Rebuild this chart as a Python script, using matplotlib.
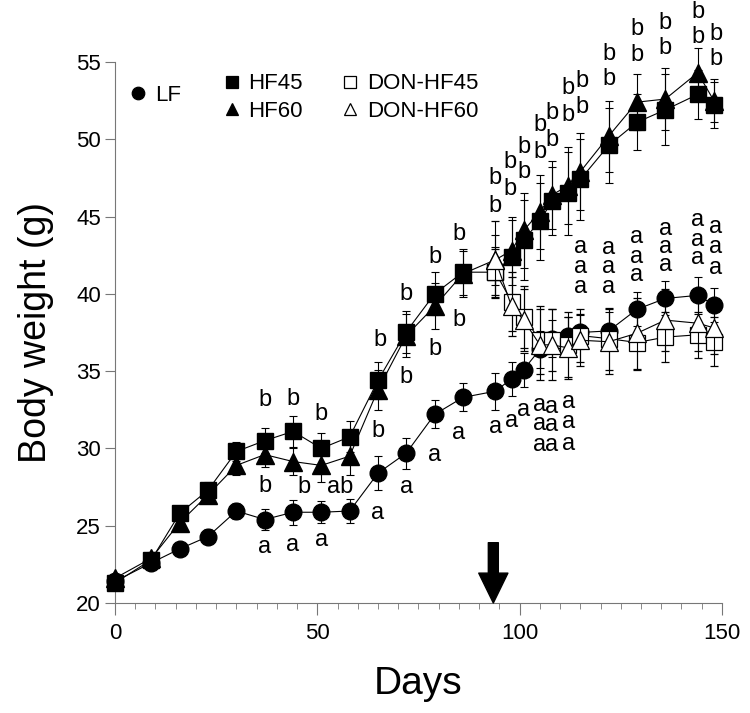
import matplotlib
matplotlib.use("Agg")
import matplotlib.pyplot as plt
from matplotlib.lines import Line2D
from matplotlib.ticker import MultipleLocator

plt.rcParams['font.family'] = ['Liberation Sans', 'DejaVu Sans']

# measurement days
days = [0, 9, 16, 23, 30, 37, 44, 51, 58, 65, 72, 79, 86, 94, 98, 101, 105, 108, 112, 115, 122, 129, 136, 144, 148]
don_days = [94, 98, 101, 105, 108, 112, 115, 122, 129, 136, 144, 148]

# body weight (g), mean and error
lf = [21.4, 22.6, 23.5, 24.3, 25.95, 25.4, 25.87, 25.87, 25.95, 28.4, 29.7, 32.2, 33.3,
      33.7, 34.5, 35.1, 36.4, 37.1, 37.3, 37.5, 37.6, 39.0, 39.7, 39.9, 39.3]
lf_err = [0.3, 0.4, 0.4, 0.5, 0.5, 0.7, 0.8, 0.7, 0.8, 1.1, 1.0, 0.9, 0.9,
          1.2, 1.1, 1.1, 1.2, 1.2, 1.2, 1.1, 1.2, 1.1, 1.1, 1.2, 1.1]
hf45 = [21.3, 22.8, 25.8, 27.3, 29.8, 30.5, 31.1, 30.0, 30.75, 34.4, 37.55, 40.0, 41.4,
        41.4, 42.4, 43.5, 44.7, 46.0, 46.5, 47.4, 49.6, 51.1, 51.9, 52.9, 52.2]
hf45_err = [0.3, 0.4, 0.5, 0.5, 0.6, 0.8, 1.0, 1.0, 1.0, 1.2, 1.35, 1.4, 1.5,
            1.6, 2.4, 2.6, 2.5, 2.2, 2.7, 2.6, 2.4, 1.8, 2.3, 1.6, 1.5]
hf60 = [21.6, 22.9, 25.2, 27.0, 28.9, 29.6, 29.15, 28.9, 29.5, 33.8, 37.3, 39.2, 41.3,
        42.2, 42.8, 44.1, 45.3, 46.4, 47.0, 47.9, 50.2, 52.4, 52.6, 54.3, 52.5]
hf60_err = [0.3, 0.4, 0.5, 0.5, 0.6, 0.8, 0.9, 1.1, 1.2, 1.3, 1.4, 1.5, 1.5,
            1.6, 2.2, 2.4, 2.4, 2.2, 2.5, 2.5, 2.3, 1.8, 2.0, 1.6, 1.4]
don_hf45 = [41.4, 39.5, 38.5, 37.0, 37.0, 36.7, 37.3, 37.1, 36.85, 37.2, 37.35, 36.9]
don_hf45_err = [1.5, 1.9, 2.0, 2.2, 2.0, 2.1, 1.7, 2.0, 1.8, 1.6, 1.5, 1.6]
don_hf60 = [42.2, 39.2, 38.3, 36.7, 36.7, 36.5, 37.0, 36.9, 37.45, 38.3, 38.1, 37.8]
don_hf60_err = [2.5, 1.9, 2.0, 2.3, 2.3, 2.0, 1.7, 2.1, 2.3, 2.0, 1.8, 1.7]

# significance letters (day, weight, letter)
ann_days = [37, 44, 51, 65.5, 72, 79, 85,
            37, 46.7, 55.6, 65, 72, 79, 85,
            37, 44, 51, 65, 72, 79, 85,
            94, 94, 97.5, 97.5, 101, 101, 105, 105, 108, 108, 112, 112, 115.5, 115.5,
            122, 122, 129, 129, 136, 136, 144, 144, 148.5, 148.5,
            115, 115, 115, 122, 122, 122, 129, 129, 129, 136, 136, 136, 144, 144, 144, 148.5, 148.5, 148.5,
            94, 98, 101, 105, 105, 105, 108, 108, 108, 112, 112, 112]
ann_weights = [33.1, 33.2, 32.2, 37.0, 40.0, 42.4, 43.9,
               27.6, 27.5, 27.5, 31.1, 34.6, 36.4, 38.3,
               23.6, 23.75, 24.1, 25.8, 27.5, 29.6, 31.0,
               45.7, 47.5, 46.8, 48.55, 47.9, 49.5, 49.2, 50.9, 49.95, 51.7, 51.6, 53.3, 52.1, 53.8,
               53.9, 55.5, 55.45, 57.1, 55.9, 57.5, 56.6, 58.2, 55.2, 56.8,
               43.05, 41.75, 40.45, 42.95, 41.75, 40.45, 43.7, 42.4, 41.2, 44.2, 43.05, 41.85,
               44.8, 43.5, 42.3, 44.35, 43.05, 41.65,
               31.4, 31.8, 32.5, 32.8, 31.6, 30.2, 32.7, 31.5, 30.2, 33.0, 31.7, 30.3]
ann_texts = ['b'] * 7 + ['b', 'b', 'ab', 'b', 'b', 'b', 'b'] + ['a'] * 7 + ['b'] * 24 + ['a'] * 18 + ['a'] * 12

arrow_day = 93.5

fig = plt.figure(figsize=(7.5, 7.13), dpi=100)
ax = fig.add_axes([0.1533, 0.1543, 0.8093, 0.7588])

eb = dict(color='black', lw=0.8, elinewidth=0.8, capsize=3, capthick=0.8, clip_on=False)
ax.errorbar(days, lf, yerr=lf_err, marker='o', ms=12, mfc='black', mec='black', zorder=3, **eb)
ax.errorbar(days, hf45, yerr=hf45_err, marker='s', ms=11, mfc='black', mec='black', zorder=4, **eb)
ax.errorbar(days, hf60, yerr=hf60_err, marker='^', ms=13, mfc='black', mec='black', zorder=5, **eb)
ax.errorbar(don_days, don_hf45, yerr=don_hf45_err, marker='s', ms=11, mfc='white', mec='black',
            mew=0.9, zorder=6, **eb)
ax.errorbar(don_days, don_hf60, yerr=don_hf60_err, marker='^', ms=13, mfc='white', mec='black',
            mew=0.9, zorder=7, **eb)

for d, w, t in zip(ann_days, ann_weights, ann_texts):
    ax.text(d, w, t, ha='center', va='center', fontsize=17, clip_on=False, zorder=8)

# arrow marking start of DON
ax.annotate('', xy=(arrow_day, 20), xytext=(arrow_day, 23.9),
            arrowprops=dict(arrowstyle='simple,head_length=2.15,head_width=2.1,tail_width=0.72',
                            mutation_scale=10, fc='black', ec='black', shrinkA=0, shrinkB=0))

ax.set_xlim(0, 150)
ax.set_ylim(20, 55)
ax.set_xticks([0, 50, 100, 150])
ax.xaxis.set_minor_locator(MultipleLocator(5))
ax.set_yticks(range(20, 56, 5))
for s in ['top', 'right']:
    ax.spines[s].set_visible(False)
for s in ['left', 'bottom']:
    ax.spines[s].set_color('#777777')
ax.tick_params(axis='x', which='major', length=8.5, color='#777777', labelsize=16, pad=6)
ax.tick_params(axis='x', which='minor', length=4, color='#777777')
ax.tick_params(axis='y', which='major', length=7, color='#777777', labelsize=16, pad=3)

ax.set_xlabel('Days', fontsize=28, labelpad=16)
ax.set_ylabel('Body weight (g)', fontsize=27, labelpad=16)

# legends
def handle(marker, fill, ms):
    return Line2D([], [], ls='none', marker=marker, ms=ms, mfc=fill, mec='black', mew=0.9)

leg_kw = dict(frameon=False, fontsize=16, handlelength=0.8, handletextpad=0.35,
              borderpad=0, borderaxespad=0, labelspacing=0.3, loc='center left')
leg1 = ax.legend([handle('o', 'black', 9)], ['LF'], bbox_to_anchor=(0.0237, 0.9377), **leg_kw)
ax.add_artist(leg1)
leg2 = ax.legend([handle('s', 'black', 8), handle('^', 'black', 9)], ['HF45', 'HF60'],
                 bbox_to_anchor=(0.1776, 0.9337), **leg_kw)
ax.add_artist(leg2)
ax.legend([handle('s', 'white', 8), handle('^', 'white', 9)], ['DON-HF45', 'DON-HF60'],
          bbox_to_anchor=(0.3725, 0.9337), **leg_kw)

fig.savefig('out.png', dpi=100)
